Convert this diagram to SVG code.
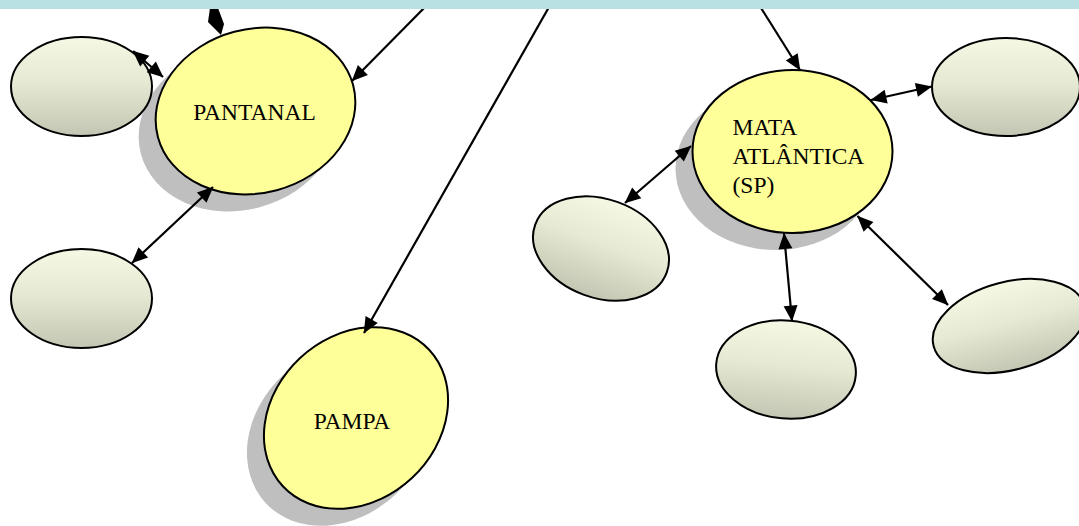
<svg xmlns="http://www.w3.org/2000/svg" width="1079" height="526" viewBox="0 0 1079 526">
  <defs>
    <linearGradient id="g" x1="0" y1="0" x2="0" y2="1">
      <stop offset="0" stop-color="#f5f9e4"/>
      <stop offset="0.45" stop-color="#e6e9d3"/>
      <stop offset="1" stop-color="#c3c6b2"/>
    </linearGradient>
    <marker id="ah" markerUnits="userSpaceOnUse" markerWidth="17" markerHeight="15" refX="15.5" refY="7" orient="auto-start-reverse" overflow="visible">
      <path d="M0,0 L16,7 L0,14 z" fill="#000"/>
    </marker>
  </defs>
  <style>
    .small { fill: url(#g); stroke: #000; stroke-width: 2; }
    .main { fill: #ffff99; stroke: #000; stroke-width: 2; }
    .shadow { fill: #bfbfbf; stroke: none; }
    .lbl { font-family: "Liberation Serif", "Times New Roman", serif; font-size: 23.5px; fill: #000; }
    .conn line { stroke: #000; stroke-width: 2.2; }
    .two { marker-start: url(#ah); marker-end: url(#ah); }
    .one { marker-end: url(#ah); }
  </style>

  <rect width="1079" height="526" fill="#ffffff"/>

  <g id="shadows">
    <ellipse class="shadow" cx="0" cy="0" rx="101" ry="82" transform="translate(238.5,128) rotate(-15)"/>
    <ellipse class="shadow" cx="0" cy="0" rx="100" ry="82" transform="translate(339,435) rotate(-43)"/>
    <ellipse class="shadow" cx="775.5" cy="168.5" rx="100" ry="81.5"/>
  </g>

  <g id="node-tl">
    <ellipse class="small" cx="81.5" cy="86.5" rx="70.5" ry="49.5"/>
  </g>
  <g id="node-bl">
    <ellipse class="small" cx="81.5" cy="298.5" rx="70.5" ry="49.5"/>
  </g>
  <g id="node-pantanal">
    <ellipse class="main" cx="0" cy="0" rx="101" ry="82" transform="translate(255.5,111) rotate(-15)"/>
    <text class="lbl" x="254.5" y="120" text-anchor="middle">PANTANAL</text>
  </g>
  <g id="node-pampa">
    <ellipse class="main" cx="0" cy="0" rx="100" ry="82" transform="translate(356,418) rotate(-43)"/>
    <text class="lbl" x="352" y="429" text-anchor="middle">PAMPA</text>
  </g>
  <g id="node-mata">
    <ellipse class="main" cx="792.5" cy="151.5" rx="100" ry="81.5"/>
    <text class="lbl" x="732.5" y="135">MATA</text>
    <text class="lbl" x="732.5" y="164">ATLÂNTICA</text>
    <text class="lbl" x="732.5" y="193">(SP)</text>
  </g>
  <g id="node-tr">
    <ellipse class="small" cx="1006" cy="87" rx="74" ry="49"/>
  </g>
  <g id="node-ml">
    <ellipse class="small" cx="0" cy="0" rx="70" ry="49.3" transform="translate(601,248.5) rotate(20)"/>
  </g>
  <g id="node-mb">
    <ellipse class="small" cx="0" cy="0" rx="70" ry="49" transform="translate(786,369.5) rotate(5)"/>
  </g>
  <g id="node-br">
    <ellipse class="small" cx="0" cy="0" rx="78" ry="44" transform="translate(1009,326) rotate(-15)"/>
  </g>

  <g id="connectors" class="conn">
    <line class="two" x1="133" y1="51" x2="163" y2="77"/>
    <line class="two" x1="213" y1="187" x2="132" y2="263"/>
    <line class="one" x1="432" y1="0" x2="352" y2="81"/>
    <line class="one" x1="553" y1="0" x2="364" y2="333"/>
    <line class="one" x1="756" y1="0" x2="800" y2="70"/>
    <line class="two" x1="871" y1="100" x2="931.5" y2="86.5"/>
    <line class="two" x1="691" y1="146" x2="625" y2="203"/>
    <line class="two" x1="784" y1="233.5" x2="792" y2="321"/>
    <line class="two" x1="857.5" y1="216" x2="948" y2="305"/>
    <polygon points="210,8 218,8 224,24 221,35 208,22" fill="#000"/>
  </g>

  <g id="banner">
    <rect x="0" y="0" width="1079" height="9" fill="#b9e1e3"/>
  </g>
</svg>
